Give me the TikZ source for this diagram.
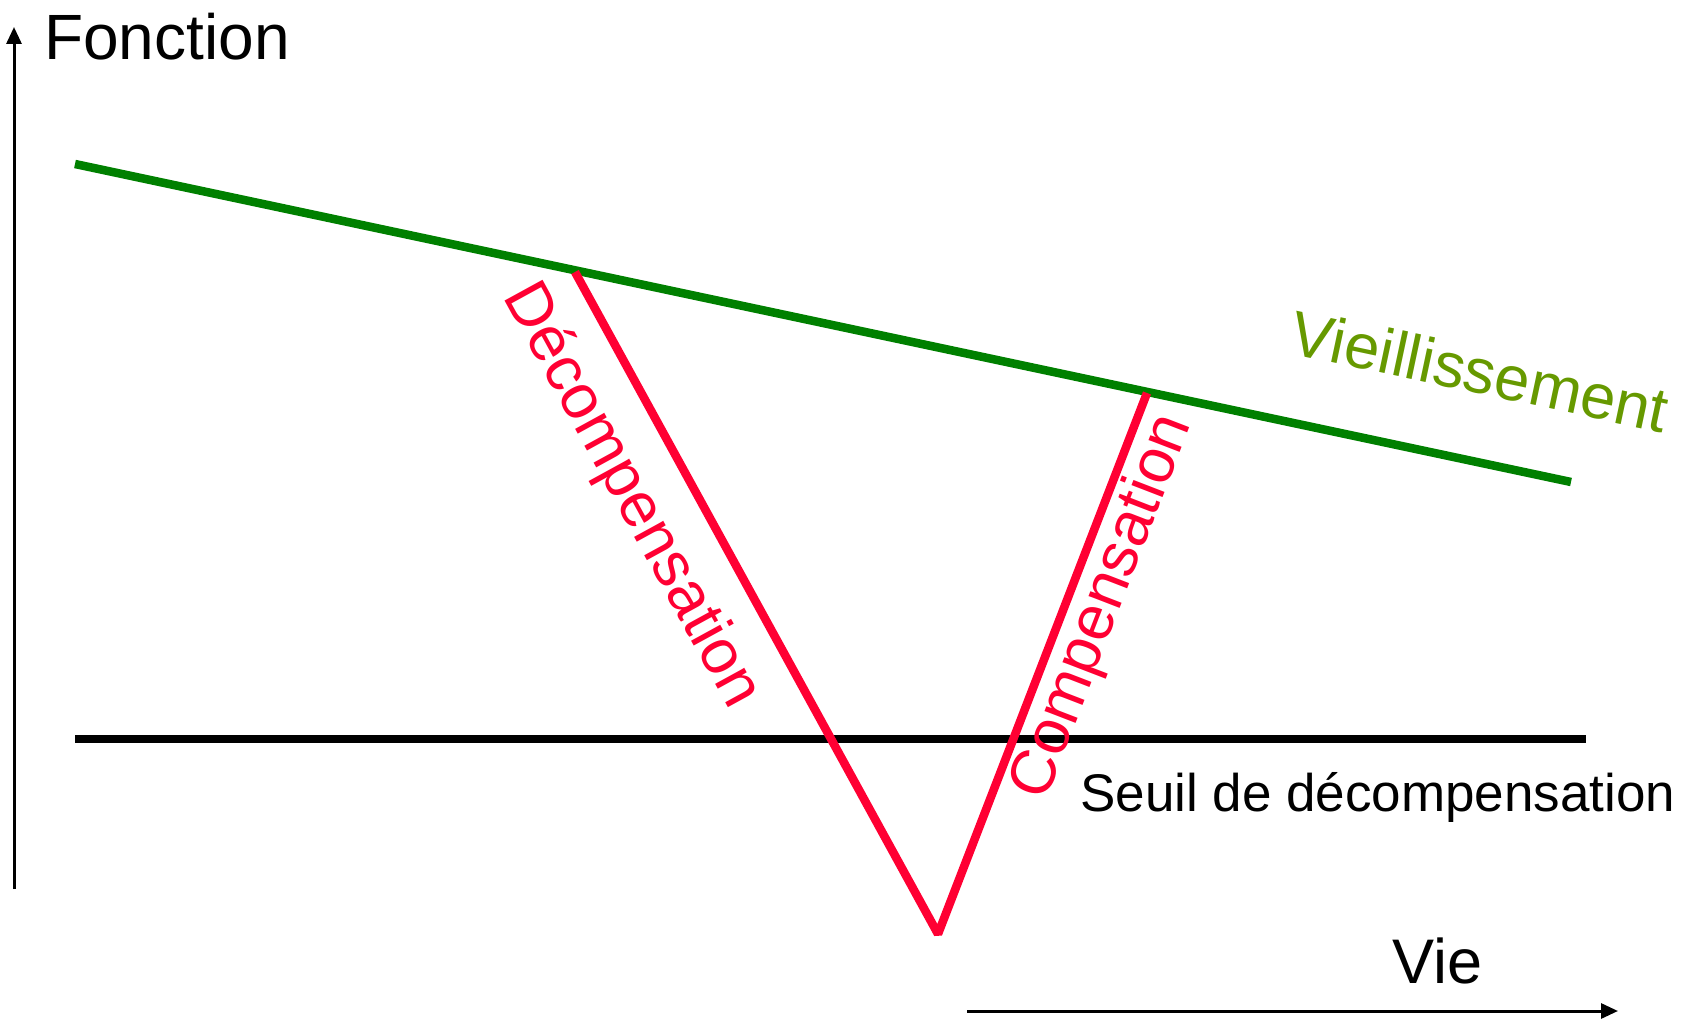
\documentclass[tikz,border=0pt]{standalone}
\usepackage{fontspec}
\setmainfont{Liberation Sans}
\usetikzlibrary{arrows.meta}
\definecolor{agegreen}{HTML}{008000}
\definecolor{agetext}{HTML}{669900}
\definecolor{compred}{HTML}{FF0033}
\tikzset{
  lbl/.style={inner sep=0pt, font=\fontsize{63}{75}\selectfont},
  axis/.style={line width=3pt, -{Triangle[length=17pt,width=15pt]}},
  redline/.style={compred, line width=8.5pt, line join=bevel},
}
\begin{document}
\begin{tikzpicture}[x=1pt,y=-1pt]
\useasboundingbox (0,0) rectangle (1684,1019);
% axes
\coordinate (y0) at (14,889);
\coordinate (y1) at (14,27);
\coordinate (x0) at (967,1011);
\coordinate (x1) at (1618,1011);
\draw[axis] (y0) -- (y1);
\draw[axis] (x0) -- (x1);
\node[lbl, anchor=base west, font=\fontsize{64}{76}\selectfont] (fonction) at (44,60) {Fonction};
\node[lbl, anchor=base west] (vie) at (1392,983) {Vie};
% ageing line
\coordinate (g0) at (75,164);
\coordinate (g1) at (1571,482);
\draw[agegreen, line width=8.5pt] (g0) -- (g1);
\node[lbl, agetext, rotate=-12] (vieil) at (1480,371) {Vieillissement};
% threshold
\coordinate (s0) at (75,739);
\coordinate (s1) at (1586,739);
\draw[black, line width=8pt] (s0) -- (s1);
\node[lbl, anchor=base west, font=\fontsize{53}{64}\selectfont] (seuil) at (1080,811) {Seuil de décompensation};
% red V
\coordinate (r0) at (575,272);
\coordinate (r1) at (938,934);
\coordinate (r2) at (1147,393);
\draw[redline] (r0) -- (r1) -- (r2);
\node[lbl, compred, rotate=-61.3] (decomp) at (631,496) {Décompensation};
\node[lbl, compred, rotate=68.9] (comp) at (1103,607) {Compensation};
\end{tikzpicture}
\end{document}
